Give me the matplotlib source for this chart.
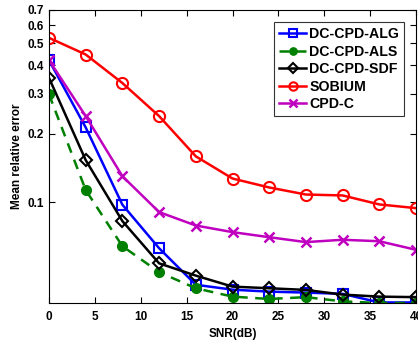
import matplotlib
matplotlib.use('Agg')
import matplotlib.pyplot as plt
from matplotlib.ticker import FixedLocator, NullLocator

plt.rcParams['font.family'] = ['Liberation Sans', 'DejaVu Sans']
plt.rcParams['font.weight'] = 'bold'

snr = [0, 4, 8, 12, 16, 20, 24, 28, 32, 36, 40]

alg = [0.421, 0.213, 0.0974, 0.0627, 0.0433, 0.0412, 0.0404, 0.0400, 0.0395, 0.0362, 0.0362]
als = [0.298, 0.113, 0.064, 0.0492, 0.0418, 0.0384, 0.0375, 0.0382, 0.0366, 0.0360, 0.0360]
sdf = [0.352, 0.153, 0.0825, 0.0538, 0.0475, 0.0425, 0.0418, 0.0411, 0.0392, 0.0384, 0.0382]
sobium = [0.528, 0.446, 0.334, 0.239, 0.159, 0.127, 0.116, 0.108, 0.107, 0.0977, 0.0941]
cpdc = [0.421, 0.239, 0.130, 0.0904, 0.0789, 0.0738, 0.0701, 0.0667, 0.0683, 0.0673, 0.0617]

y_ticks = [0.1, 0.2, 0.3, 0.4, 0.5, 0.6, 0.7]
y_tick_labels = ['0.1', '0.2', '0.3', '0.4', '0.5', '0.6', '0.7']
x_ticks = [0, 5, 10, 15, 20, 25, 30, 35, 40]

fig = plt.figure(figsize=(4.18, 3.47), dpi=100)
ax = fig.add_axes([49 / 418, 1 - 303 / 347, (416 - 49) / 418, (303 - 10) / 347])

lw = 1.8
ax.plot(snr, alg, color='#0000FF', lw=lw, marker='s', ms=7, mfc='none', mew=1.5, label='DC-CPD-ALG')
ax.plot(snr, als, color='#008000', lw=lw, ls=(0, (4, 3)), marker='o', ms=7, mfc='#008000', label='DC-CPD-ALS')
ax.plot(snr, sdf, color='black', lw=lw, marker='D', ms=6.5, mfc='none', mew=1.5, label='DC-CPD-SDF')
ax.plot(snr, sobium, color='#FF0000', lw=lw, marker='o', ms=8, mfc='none', mew=1.5, label='SOBIUM')
ax.plot(snr, cpdc, color='#BF00BF', lw=lw, marker='x', ms=7, mew=1.8, label='CPD-C')

ax.set_yscale('log')
ax.set_xlim(0, 40)
ax.set_ylim(0.036, 0.7)
ax.yaxis.set_major_locator(FixedLocator(y_ticks))
ax.yaxis.set_minor_locator(NullLocator())
ax.set_yticklabels(y_tick_labels)
ax.set_xticks(x_ticks)

ax.tick_params(direction='in', top=True, right=True, labelsize=8.5, length=4, width=0.8)
ax.tick_params(axis='x', pad=6)
for s in ax.spines.values():
    s.set_linewidth(0.8)

ax.set_xlabel('SNR(dB)', fontsize=8.5, fontweight='bold', labelpad=3)
ax.set_ylabel('Mean relative error', fontsize=8.5, fontweight='bold', labelpad=3)

leg = ax.legend(loc='upper right', fontsize=10.2, frameon=True, fancybox=False, edgecolor='black',
                handlelength=1.9, handletextpad=0.2, borderpad=0.35, labelspacing=0.25,
                borderaxespad=0.85, markerscale=0.75)
leg.get_frame().set_linewidth(0.8)

fig.savefig('out.png', dpi=100)
